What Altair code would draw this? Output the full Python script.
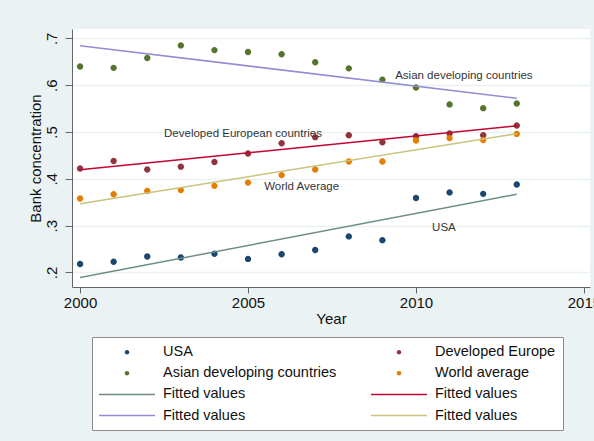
import altair as alt
import pandas as pd

# ---- data ----
years = list(range(2000, 2014))
usa = [0.218, 0.223, 0.234, 0.232, 0.240, 0.229, 0.239, 0.248, 0.277, 0.269, 0.359, 0.371, 0.368, 0.388]
dev_europe = [0.422, 0.438, 0.420, 0.426, 0.436, 0.454, 0.476, 0.489, 0.493, 0.478, 0.491, 0.497, 0.493, 0.514]
asian = [0.640, 0.637, 0.658, 0.685, 0.675, 0.671, 0.666, 0.649, 0.636, 0.612, 0.595, 0.559, 0.551, 0.561]
world = [0.358, 0.367, 0.374, 0.376, 0.385, 0.392, 0.408, 0.420, 0.437, 0.437, 0.482, 0.487, 0.483, 0.496]

series_names = ["USA", "Developed Europe", "Asian developing countries", "World average"]
series_values = [usa, dev_europe, asian, world]
fit_names = ["Fitted values (" + s + ")" for s in series_names]

point_colors = ["#1a476f", "#90353b", "#55752f", "#e37e00"]
fit_colors = ["#6e8e84", "#c10534", "#938dd2", "#cac27e"]

ann_text = ["Asian developing countries", "Developed European countries", "World Average", "USA"]
ann_year = [2009.38, 2002.5, 2005.48, 2010.48]
ann_value = [0.620, 0.495, 0.383, 0.295]

x_ticks = [2000, 2005, 2010, 2015]
y_ticks = [0.2, 0.3, 0.4, 0.5, 0.6, 0.7]

# ---- tables ----
rows = []
for name, vals in zip(series_names, series_values):
    for yr, v in zip(years, vals):
        rows.append({"year": yr, "value": v, "key": name})
df = pd.DataFrame(rows)
ann = pd.DataFrame({"label": ann_text, "year": ann_year, "value": ann_value})

# legend order (column-major fill of a 2-column legend)
legend_order = [series_names[0], series_names[2], fit_names[0], fit_names[2],
                series_names[1], series_names[3], fit_names[1], fit_names[3]]
color_map = dict(zip(series_names + fit_names, point_colors + fit_colors))
circle_path = "M0.22,0A0.22,0.22,0,1,1,-0.22,0A0.22,0.22,0,1,1,0.22,0Z"
line_path = "M-4,0L4,0"
shape_map = {**{s: circle_path for s in series_names}, **{f: line_path for f in fit_names}}

color_scale = alt.Scale(domain=legend_order, range=[color_map[k] for k in legend_order])
shape_scale = alt.Scale(domain=legend_order, range=[shape_map[k] for k in legend_order])

FONT = "Liberation Sans"

legend = alt.Legend(
    title=None, orient="none", legendX=20, legendY=308, columns=2,
    labelFont=FONT, labelFontSize=14.5, labelColor="#111", labelLimit=400,
    labelExpr="indexof(datum.label, 'Fitted') == 0 ? 'Fitted values' : datum.label",
    symbolSize=196, symbolOffset=20, labelOffset=28, symbolStrokeWidth=1.5,
    symbolOpacity=1, padding=7, columnPadding=31, rowPadding=6.2,
    strokeColor="#8a8a8a", fillColor="white",
)

xscale = alt.Scale(domain=[1999.76, 2015.18], nice=False, zero=False)
yscale = alt.Scale(domain=[0.169, 0.72], nice=False, zero=False)

xaxis = alt.Axis(values=x_ticks, format="d", title="Year", grid=False,
                 labelFont=FONT, labelFontSize=15, labelColor="#111",
                 tickSize=6, labelPadding=2, titleFont=FONT, titleFontSize=15,
                 titleFontWeight="normal", titleColor="#111", titlePadding=1,
                 domainColor="#666", tickColor="#666")
yaxis = alt.Axis(values=y_ticks, title="Bank concentration",
                 labelExpr="substring(format(datum.value, '.1f'), 1)",
                 labelAngle=270, labelAlign="center", labelBaseline="bottom",
                 labelFont=FONT, labelFontSize=15, labelColor="#111",
                 tickSize=7, labelPadding=6, titleFont=FONT, titleFontSize=15,
                 titleFontWeight="normal", titleColor="#111", titlePadding=1,
                 grid=True, gridColor="#EAF2F3", gridWidth=1.5,
                 domainColor="#666", tickColor="#666")

base = alt.Chart(df)

points = base.transform_calculate(series="datum.key").mark_point(
    filled=True, size=841, opacity=1
).encode(
    x=alt.X("year:Q", scale=xscale, axis=xaxis),
    y=alt.Y("value:Q", scale=yscale, axis=yaxis),
    color=alt.Color("series:N", scale=color_scale, legend=legend),
    shape=alt.Shape("series:N", scale=shape_scale, legend=legend),
)

fits = base.transform_regression(
    "year", "value", groupby=["key"]
).transform_calculate(
    series="'Fitted values (' + datum.key + ')'"
).mark_line(strokeWidth=1.5).encode(
    x=alt.X("year:Q", scale=xscale, axis=xaxis),
    y=alt.Y("value:Q", scale=yscale, axis=yaxis),
    color=alt.Color("series:N", scale=color_scale, legend=legend),
)

labels = alt.Chart(ann).mark_text(
    align="left", baseline="middle", font=FONT, fontSize=11.5, color="#333"
).encode(
    x=alt.X("year:Q", scale=xscale, axis=xaxis),
    y=alt.Y("value:Q", scale=yscale, axis=yaxis),
    text="label:N",
)

chart = alt.layer(points, fits, labels).properties(
    width=518, height=258,
    background="#EAF2F3",
    padding={"left": 72, "top": 29, "right": 4, "bottom": 154},
    autosize=alt.AutoSizeParams(type="none"),
).configure_view(fill="white", stroke=None)

chart.save("out.html", embed_options={"renderer": "svg", "actions": False})
